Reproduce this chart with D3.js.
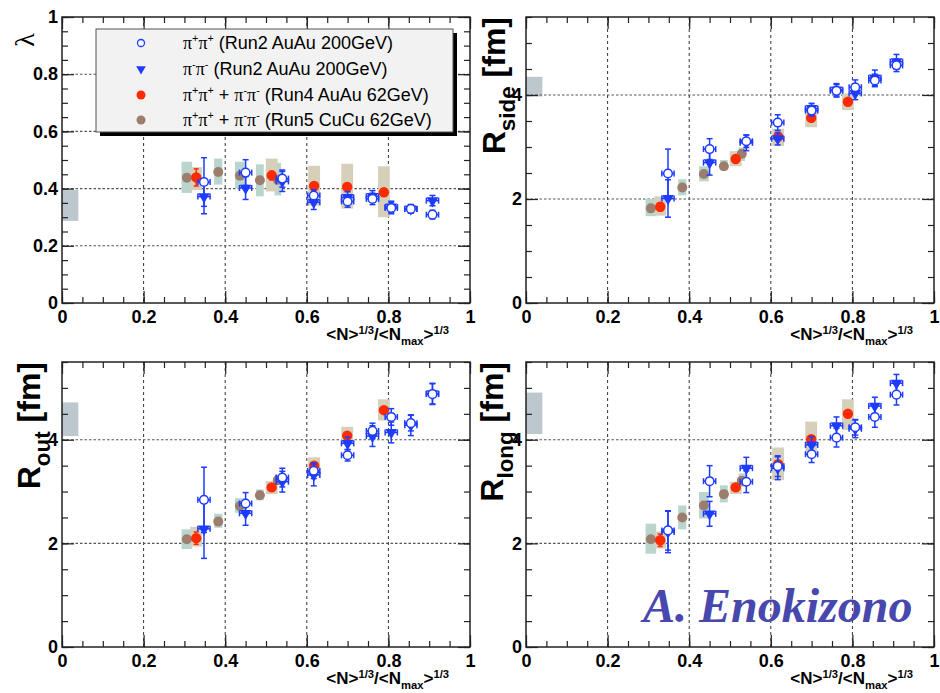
<!DOCTYPE html>
<html>
<head>
<meta charset="utf-8">
<script src="https://cdn.jsdelivr.net/npm/d3@7"></script>
<style>
  body { margin: 0; background: #fff; }
  svg { display: block; }
</style>
</head>
<body>
<svg id="chart" width="940" height="693"></svg>
<script>
// ---- tick labels ----
const xTicks = [0, 0.2, 0.4, 0.6, 0.8, 1];
const lambdaTicks = [0, 0.2, 0.4, 0.6, 0.8, 1];
const radiusTicks = [0, 2, 4];

// ---- Run2 Au+Au 200 GeV (pi+pi+ and pi-pi-) ----
const xRun2 = [0.348, 0.450, 0.540, 0.617, 0.700, 0.761, 0.807, 0.855, 0.908];
const xErrRun2 = 0.015;
const lambdaPP    = [0.423, 0.456, 0.435, 0.376, 0.355, 0.364, 0.332, 0.329, 0.309];
const lambdaPPErr = [0.085, 0.045, 0.030, 0.020, 0.020, 0.020, 0.020, 0.015, 0.015];
const lambdaMM    = [0.372, 0.402, 0.425, 0.352, 0.369, 0.373, 0.336, 0.329, 0.358];
const lambdaMMErr = [0.060, 0.040, 0.035, 0.025, 0.020, 0.020, 0.020, 0.015, 0.018];
const rsidePP    = [2.49, 2.96, 3.11, 3.47, 3.70, 4.08, 4.15, 4.28, 4.57];
const rsidePPErr = [0.47, 0.20, 0.12, 0.15, 0.10, 0.12, 0.14, 0.12, 0.12];
const rsideMM    = [2.01, 2.70, 3.08, 3.16, 3.74, 4.10, 4.03, 4.33, 4.64];
const rsideMMErr = [0.36, 0.24, 0.15, 0.12, 0.10, 0.12, 0.12, 0.15, 0.14];
const routPP    = [2.84, 2.77, 3.27, 3.40, 3.70, 4.17, 4.44, 4.32, 4.88];
const routPPErr = [0.63, 0.21, 0.18, 0.15, 0.11, 0.15, 0.16, 0.15, 0.20];
const routMM    = [2.28, 2.58, 3.19, 3.32, 3.93, 4.07, 4.14, 4.28, 4.89];
const routMMErr = [0.57, 0.23, 0.20, 0.21, 0.12, 0.20, 0.20, 0.20, 0.20];
const rlongPP    = [2.25, 3.20, 3.19, 3.49, 3.72, 4.04, 4.24, 4.44, 4.87];
const rlongPPErr = [0.38, 0.30, 0.21, 0.20, 0.16, 0.18, 0.15, 0.20, 0.20];
const rlongMM    = [2.22, 2.57, 3.45, 3.45, 3.90, 4.27, 4.21, 4.65, 5.09];
const rlongMMErr = [0.40, 0.24, 0.21, 0.22, 0.16, 0.17, 0.17, 0.17, 0.17];

// ---- Run4 Au+Au 62 GeV (combined) ----
const xRun4 = [0.329, 0.514, 0.618, 0.699, 0.789];
const xSystRun4 = 0.0145;
const lambdaRun4 = [0.439, 0.446, 0.409, 0.406, 0.387];
const lambdaRun4Err = [0.030, 0.015, 0.012, 0.012, 0.012];
const lambdaRun4Lo = [0.395, 0.390, 0.340, 0.330, 0.300];
const lambdaRun4Hi = [0.475, 0.505, 0.480, 0.487, 0.478];
const rsideRun4 = [1.85, 2.77, 3.20, 3.56, 3.87];
const rsideRun4Err = [0.08, 0.05, 0.05, 0.05, 0.05];
const rsideRun4Lo = [1.68, 2.63, 3.02, 3.38, 3.71];
const rsideRun4Hi = [2.05, 2.92, 3.35, 3.74, 4.03];
const routRun4 = [2.10, 3.08, 3.50, 4.08, 4.57];
const routRun4Err = [0.12, 0.05, 0.05, 0.05, 0.05];
const routRun4Lo = [1.94, 2.95, 3.35, 3.92, 4.37];
const routRun4Hi = [2.32, 3.20, 3.66, 4.25, 4.78];
const rlongRun4 = [2.06, 3.08, 3.53, 4.01, 4.50];
const rlongRun4Err = [0.12, 0.05, 0.05, 0.05, 0.05];
const rlongRun4Lo = [1.90, 2.95, 3.22, 3.69, 4.19];
const rlongRun4Hi = [2.23, 3.19, 3.85, 4.35, 4.78];

// ---- Run5 Cu+Cu 62 GeV (combined) ----
const xRun5 = [0.306, 0.383, 0.436, 0.485, 0.529];
const xSystRun5 = [0.013, 0.010, 0.012, 0.0095, 0.008];
const lambdaRun5 = [0.438, 0.458, 0.445, 0.429, 0.431];
const lambdaRun5Lo = [0.385, 0.414, 0.400, 0.373, 0.376];
const lambdaRun5Hi = [0.494, 0.505, 0.494, 0.485, 0.490];
const rsideRun5 = [1.82, 2.22, 2.48, 2.63, 2.87];
const rsideRun5Lo = [1.67, 2.07, 2.34, 2.55, 2.73];
const rsideRun5Hi = [2.00, 2.38, 2.63, 2.75, 2.99];
const routRun5 = [2.08, 2.42, 2.72, 2.93, 3.22];
const routRun5Lo = [1.89, 2.30, 2.59, 2.83, 3.13];
const routRun5Hi = [2.27, 2.57, 2.87, 3.04, 3.32];
const rlongRun5 = [2.08, 2.50, 2.73, 2.95, 3.21];
const rlongRun5Lo = [1.80, 2.27, 2.48, 2.79, 3.09];
const rlongRun5Hi = [2.38, 2.73, 2.99, 3.12, 3.35];

// ---- global (scale) systematic bands ----
const globalX = [0, 0.04];
const lambdaGlobal = [0.287, 0.395];
const rsideGlobal = [3.97, 4.35];
const routGlobal = [4.07, 4.72];
const rlongGlobal = [4.11, 4.91];

// ---- colours ----
const BLUE = "#1e3cff", RED = "#ff2a00", BROWN = "#9c7d6e";
const TAN = "#d6cfb9", GREEN = "#b9d5cd", GREY = "#bcc7ce";

const svg = d3.select("#chart");

// Draws a run of text pieces with super/subscripts.
function richText(g, parts, o) {
  const t = g.append("text")
    .attr("x", o.x).attr("y", o.y)
    .attr("text-anchor", o.anchor || "start")
    .attr("font-family", o.family || "'Liberation Sans', Arial, sans-serif")
    .attr("font-weight", o.weight || "normal")
    .attr("font-size", o.size)
    .attr("fill", o.fill || "#000");
  if (o.transform) t.attr("transform", o.transform);
  let shift = 0;
  parts.forEach(p => {
    let s = 0, fs = o.size;
    if (p.s === "sup") { s = -o.size * (o.supShift || 0.42); fs = o.size * (o.subScale || 0.66); }
    if (p.s === "sub") { s = o.size * (o.subShift || 0.28); fs = o.size * (o.subScale || 0.66); }
    const ts = t.append("tspan").attr("dy", s - shift).attr("font-size", fs).text(p.t);
    if (p.f) ts.attr("font-family", p.f);
    shift = s;
  });
  return t;
}

const xTitleParts = [
  {t: "<N>"}, {t: "1/3", s: "sup"}, {t: "/<N"}, {t: "max", s: "sub"}, {t: ">"}, {t: "1/3", s: "sup"}
];

const panels = [
  {left: 62, right: 470, top: 17, bottom: 303, ymax: 1, yTicks: lambdaTicks, yMinor: 0.05,
   global: lambdaGlobal,
   pp: lambdaPP, ppErr: lambdaPPErr, mm: lambdaMM, mmErr: lambdaMMErr,
   r4: lambdaRun4, r4Err: lambdaRun4Err, r4Lo: lambdaRun4Lo, r4Hi: lambdaRun4Hi,
   r5: lambdaRun5, r5Lo: lambdaRun5Lo, r5Hi: lambdaRun5Hi,
   title: "lambda"},
  {left: 526, right: 934, top: 17, bottom: 303, ymax: 5.5, yTicks: radiusTicks, yMinor: 0.5,
   global: rsideGlobal,
   pp: rsidePP, ppErr: rsidePPErr, mm: rsideMM, mmErr: rsideMMErr,
   r4: rsideRun4, r4Err: rsideRun4Err, r4Lo: rsideRun4Lo, r4Hi: rsideRun4Hi,
   r5: rsideRun5, r5Lo: rsideRun5Lo, r5Hi: rsideRun5Hi,
   title: "side", titleX: 505},
  {left: 62, right: 470, top: 362, bottom: 647, ymax: 5.5, yTicks: radiusTicks, yMinor: 0.5,
   global: routGlobal,
   pp: routPP, ppErr: routPPErr, mm: routMM, mmErr: routMMErr,
   r4: routRun4, r4Err: routRun4Err, r4Lo: routRun4Lo, r4Hi: routRun4Hi,
   r5: routRun5, r5Lo: routRun5Lo, r5Hi: routRun5Hi,
   title: "out", titleX: 40},
  {left: 526, right: 934, top: 362, bottom: 647, ymax: 5.5, yTicks: radiusTicks, yMinor: 0.5,
   global: rlongGlobal,
   pp: rlongPP, ppErr: rlongPPErr, mm: rlongMM, mmErr: rlongMMErr,
   r4: rlongRun4, r4Err: rlongRun4Err, r4Lo: rlongRun4Lo, r4Hi: rlongRun4Hi,
   r5: rlongRun5, r5Lo: rlongRun5Lo, r5Hi: rlongRun5Hi,
   title: "long", titleX: 503}
];

const fmt = d3.format("~g");
const triangleDown = d3.symbol().type(d3.symbolTriangle).size(60);

panels.forEach(P => {
  const x = d3.scaleLinear().domain([0, 1]).range([P.left, P.right]);
  const y = d3.scaleLinear().domain([0, P.ymax]).range([P.bottom, P.top]);
  const g = svg.append("g");

  // global systematic band
  g.append("rect")
    .attr("x", x(globalX[0])).attr("width", x(globalX[1]) - x(globalX[0]))
    .attr("y", y(P.global[1])).attr("height", y(P.global[0]) - y(P.global[1]))
    .attr("fill", GREY);

  // grid
  const yGrid = P.yTicks.filter(v => v > 0 && v < P.ymax);
  g.selectAll(".gx").data(xTicks.filter(v => v > 0 && v < 1)).join("line")
    .attr("x1", d => x(d)).attr("x2", d => x(d))
    .attr("y1", P.top).attr("y2", P.bottom)
    .attr("stroke", "#333").attr("stroke-width", 1).attr("stroke-dasharray", "3,3");
  g.selectAll(".gy").data(yGrid).join("line")
    .attr("x1", P.left).attr("x2", P.right)
    .attr("y1", d => y(d)).attr("y2", d => y(d))
    .attr("stroke", "#555").attr("stroke-width", 1.1).attr("stroke-dasharray", "2.5,2");

  // axes with inward ticks
  const xMinor = d3.range(0, 1.0001, 0.05);
  const yMinorVals = d3.range(0, P.ymax + 1e-6, P.yMinor);
  const axisStyle = sel => {
    sel.select(".domain").remove();
    sel.selectAll("line").attr("stroke", "#222").attr("stroke-width", 1.2);
    sel.selectAll("text").attr("font-family", "'Liberation Sans', Arial, sans-serif")
      .attr("font-weight", "bold").attr("font-size", 18).attr("fill", "#000");
  };
  g.append("g").attr("transform", `translate(0,${P.bottom})`)
    .call(d3.axisBottom(x).tickValues(xMinor).tickSize(-6).tickFormat("")).call(axisStyle);
  g.append("g").attr("transform", `translate(0,${P.bottom})`)
    .call(d3.axisBottom(x).tickValues(xTicks).tickSize(-12).tickPadding(7).tickFormat(fmt)).call(axisStyle);
  g.append("g").attr("transform", `translate(0,${P.top})`)
    .call(d3.axisTop(x).tickValues(xMinor).tickSize(-6).tickFormat("")).call(axisStyle);
  g.append("g").attr("transform", `translate(0,${P.top})`)
    .call(d3.axisTop(x).tickValues(xTicks).tickSize(-12).tickFormat("")).call(axisStyle);
  g.append("g").attr("transform", `translate(${P.left},0)`)
    .call(d3.axisLeft(y).tickValues(yMinorVals).tickSize(-6).tickFormat("")).call(axisStyle);
  g.append("g").attr("transform", `translate(${P.left},0)`)
    .call(d3.axisLeft(y).tickValues(P.yTicks).tickSize(-12).tickPadding(4).tickFormat(fmt)).call(axisStyle);
  g.append("g").attr("transform", `translate(${P.right},0)`)
    .call(d3.axisRight(y).tickValues(yMinorVals).tickSize(-6).tickFormat("")).call(axisStyle);
  g.append("g").attr("transform", `translate(${P.right},0)`)
    .call(d3.axisRight(y).tickValues(P.yTicks).tickSize(-12).tickFormat("")).call(axisStyle);

  // frame
  g.append("rect").attr("x", P.left).attr("y", P.top)
    .attr("width", P.right - P.left).attr("height", P.bottom - P.top)
    .attr("fill", "none").attr("stroke", "#222").attr("stroke-width", 1.5);

  // x title
  richText(g, xTitleParts, {x: P.right - 21, y: P.bottom + 37, anchor: "end", size: 17, weight: "bold", supShift: 0.38});

  // y title
  if (P.title === "lambda") {
    g.append("text")
      .attr("transform", `translate(34,40) rotate(-90)`)
      .attr("text-anchor", "middle")
      .attr("font-family", "'Liberation Serif', 'DejaVu Serif', serif")
      .attr("font-size", 28).text("λ");
  } else {
    richText(g, [{t: "R"}, {t: P.title, s: "sub"}, {t: " [fm]"}], {
      x: 0, y: 0, anchor: "end", size: 32, weight: "bold", subScale: 0.7, subShift: 0.3,
      transform: `translate(${P.titleX},${P.top}) rotate(-90)`
    });
  }

  // systematic boxes
  g.selectAll(".s5").data(xRun5).join("rect")
    .attr("x", (d, i) => x(d - xSystRun5[i]))
    .attr("width", (d, i) => x(d + xSystRun5[i]) - x(d - xSystRun5[i]))
    .attr("y", (d, i) => y(P.r5Hi[i]))
    .attr("height", (d, i) => y(P.r5Lo[i]) - y(P.r5Hi[i]))
    .attr("fill", GREEN);
  g.selectAll(".s4").data(xRun4).join("rect")
    .attr("x", d => x(d - xSystRun4))
    .attr("width", d => x(d + xSystRun4) - x(d - xSystRun4))
    .attr("y", (d, i) => y(P.r4Hi[i]))
    .attr("height", (d, i) => y(P.r4Lo[i]) - y(P.r4Hi[i]))
    .attr("fill", TAN);

  // Run5 Cu+Cu points
  g.selectAll(".p5").data(xRun5).join("circle")
    .attr("cx", d => x(d)).attr("cy", (d, i) => y(P.r5[i]))
    .attr("r", 5).attr("fill", BROWN);

  // Run4 Au+Au 62 GeV points with stat error
  const r4 = g.selectAll(".p4").data(xRun4).join("g");
  r4.append("line")
    .attr("x1", d => x(d)).attr("x2", d => x(d))
    .attr("y1", (d, i) => y(P.r4[i] - P.r4Err[i])).attr("y2", (d, i) => y(P.r4[i] + P.r4Err[i]))
    .attr("stroke", RED).attr("stroke-width", 1.5);
  [-1, 1].forEach(sg => r4.append("line")
    .attr("x1", d => x(d) - 2.5).attr("x2", d => x(d) + 2.5)
    .attr("y1", (d, i) => y(P.r4[i] + sg * P.r4Err[i])).attr("y2", (d, i) => y(P.r4[i] + sg * P.r4Err[i]))
    .attr("stroke", RED).attr("stroke-width", 1.5));
  r4.append("circle")
    .attr("cx", d => x(d)).attr("cy", (d, i) => y(P.r4[i]))
    .attr("r", 5.2).attr("fill", RED);

  // Run2 error bars (both charges)
  function run2Errors(vals, errs) {
    const e = g.append("g").attr("stroke", BLUE).attr("stroke-width", 1.5);
    xRun2.forEach((xv, i) => {
      const cx = x(xv), cy = y(vals[i]);
      const y1 = y(vals[i] - errs[i]), y2 = y(vals[i] + errs[i]);
      const xl = x(xv - xErrRun2), xr = x(xv + xErrRun2);
      e.append("line").attr("x1", cx).attr("x2", cx).attr("y1", y1).attr("y2", y2);
      e.append("line").attr("x1", cx - 3).attr("x2", cx + 3).attr("y1", y1).attr("y2", y1);
      e.append("line").attr("x1", cx - 3).attr("x2", cx + 3).attr("y1", y2).attr("y2", y2);
      e.append("line").attr("x1", xl).attr("x2", xr).attr("y1", cy).attr("y2", cy);
      e.append("line").attr("x1", xl).attr("x2", xl).attr("y1", cy - 3).attr("y2", cy + 3);
      e.append("line").attr("x1", xr).attr("x2", xr).attr("y1", cy - 3).attr("y2", cy + 3);
    });
  }
  run2Errors(P.mm, P.mmErr);
  run2Errors(P.pp, P.ppErr);

  g.selectAll(".pm").data(xRun2).join("path")
    .attr("d", triangleDown)
    .attr("transform", (d, i) => `translate(${x(d)},${y(P.mm[i])}) rotate(180)`)
    .attr("fill", BLUE);
  g.selectAll(".pp").data(xRun2).join("circle")
    .attr("cx", d => x(d)).attr("cy", (d, i) => y(P.pp[i]))
    .attr("r", 4.3).attr("fill", "#fff").attr("stroke", BLUE).attr("stroke-width", 1.5);
});

// ---- legend ----
const lg = svg.append("g");
lg.append("rect").attr("x", 100).attr("y", 33).attr("width", 357).attr("height", 103).attr("fill", "#000");
lg.append("rect").attr("x", 96).attr("y", 29).attr("width", 357).attr("height", 103)
  .attr("fill", "#f2f2f2").attr("stroke", "#555").attr("stroke-width", 1);

const PI = "'Liberation Serif', 'DejaVu Serif', serif";
const legendEntries = [
  {parts: [{t: "π", f: PI}, {t: "+", s: "sup"}, {t: "π", f: PI}, {t: "+", s: "sup"}, {t: " (Run2 AuAu 200GeV)"}], mark: "open"},
  {parts: [{t: "π", f: PI}, {t: "-", s: "sup"}, {t: "π", f: PI}, {t: "-", s: "sup"}, {t: " (Run2 AuAu 200GeV)"}], mark: "tri"},
  {parts: [{t: "π", f: PI}, {t: "+", s: "sup"}, {t: "π", f: PI}, {t: "+", s: "sup"}, {t: " + "}, {t: "π", f: PI}, {t: "-", s: "sup"}, {t: "π", f: PI}, {t: "-", s: "sup"}, {t: " (Run4 AuAu 62GeV)"}], mark: RED},
  {parts: [{t: "π", f: PI}, {t: "+", s: "sup"}, {t: "π", f: PI}, {t: "+", s: "sup"}, {t: " + "}, {t: "π", f: PI}, {t: "-", s: "sup"}, {t: "π", f: PI}, {t: "-", s: "sup"}, {t: " (Run5 CuCu 62GeV)"}], mark: BROWN}
];
const rowY = [43, 69, 95, 120];
legendEntries.forEach((e, i) => {
  const cy = rowY[i];
  if (e.mark === "open") {
    lg.append("circle").attr("cx", 141).attr("cy", cy).attr("r", 3.5)
      .attr("fill", "#fff").attr("stroke", BLUE).attr("stroke-width", 1.3);
  } else if (e.mark === "tri") {
    lg.append("path").attr("d", d3.symbol().type(d3.symbolTriangle).size(40))
      .attr("transform", `translate(141,${cy}) rotate(180)`).attr("fill", BLUE);
  } else {
    lg.append("circle").attr("cx", 141).attr("cy", cy).attr("r", 4.5).attr("fill", e.mark);
  }
  richText(lg, e.parts, {x: 183, y: cy + 6, size: 18, subScale: 0.6, supShift: 0.38});
});

// ---- author ----
svg.append("text")
  .attr("x", 643).attr("y", 622)
  .attr("font-family", "'Liberation Serif', 'Times New Roman', serif")
  .attr("font-style", "italic").attr("font-weight", "bold")
  .attr("font-size", 48).attr("fill", "#4747ad")
  .text("A. Enokizono");
</script>
</body>
</html>
